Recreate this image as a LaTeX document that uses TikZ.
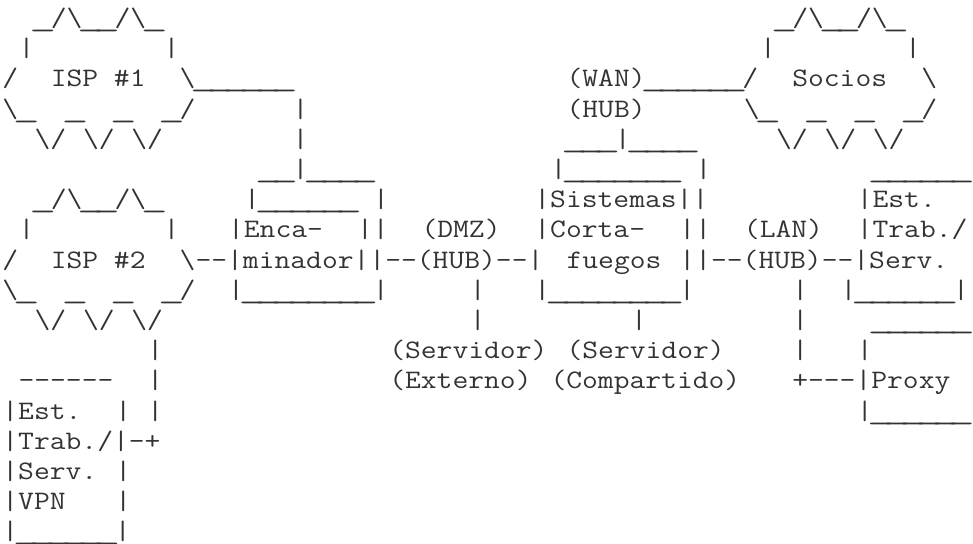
\documentclass[tikz,border=0pt]{standalone}

\newcommand{\hy}{-\kern0pt}
\newcommand{\bs}{\textbackslash}
\newcommand{\us}{\makebox[0.525em]{\scalebox{1.7}[1]{\_}}}

\begin{document}
\begin{tikzpicture}[x=12.09pt,y=-22.65pt,
        every node/.style={anchor=base west,inner sep=0,outer sep=0,text=black!80,
            font=\fontsize{20}{22}\selectfont\ttfamily,xscale=1.1514},
        ]
\useasboundingbox (-0.15,-0.88) rectangle (60.21,17.13);

% ISP #1
\node (ispA-top) at (2,0) {\us/\bs\us\us/\bs\us};
\node (ispA-l) at (1,1) {|};
\node (ispA-r) at (10,1) {|};
\node (ispA-w) at (0,2) {/};
\node (ispA) at (3,2) {ISP \#1};
\node (ispA-link) at (11,2) {\bs\us\us\us\us\us\us};
\node (ispA-b1) at (0,3) {\bs\us};
\node (ispA-b2) at (4,3) {\us};
\node (ispA-b3) at (7,3) {\us};
\node (ispA-b4) at (10,3) {\us/};
\node (ispA-v1) at (2,4) {\bs/};
\node (ispA-v2) at (5,4) {\bs/};
\node (ispA-v3) at (8,4) {\bs/};
\node (ispA-d1) at (18,3) {|};
\node (ispA-d2) at (18,4) {|};

% Socios
\node (soc-top) at (48,0) {\us/\bs\us\us/\bs\us};
\node (soc-l) at (47,1) {|};
\node (soc-r) at (56,1) {|};
\node (wan) at (35,2) {(WAN)\us\us\us\us\us\us/};
\node (soc) at (49,2) {Socios};
\node (soc-e) at (57,2) {\bs};
\node (wan-hub) at (35,3) {(HUB)};
\node (soc-b1) at (46,3) {\bs\us};
\node (soc-b2) at (50,3) {\us};
\node (soc-b3) at (53,3) {\us};
\node (soc-b4) at (56,3) {\us/};
\node (soc-v1) at (48,4) {\bs/};
\node (soc-v2) at (51,4) {\bs/};
\node (soc-v3) at (54,4) {\bs/};

% Encaminador
\node (enc-top) at (16,5) {\us\us|\us\us\us\us};
\node (enc-back) at (15,6) {|\us\us\us\us\us\us};
\node (enc-back-r) at (23,6) {|};
\node (enc-a) at (14,7) {|Enca-};
\node (enc-a-r) at (22,7) {||};
\node (enc-bot) at (14,9) {|\us\us\us\us\us\us\us\us|};

% Sistemas Cortafuegos
\node (fw-top) at (35,4) {\us\us\us|\us\us\us\us};
\node (fw-back) at (34,5) {|\us\us\us\us\us\us\us};
\node (fw-back-r) at (43,5) {|};
\node (fw-a) at (33,6) {|Sistemas||};
\node (fw-b) at (33,7) {|Corta-};
\node (fw-b-r) at (42,7) {||};
\node (fw-c) at (35,8) {fuegos};
\node (fw-bot) at (33,9) {|\us\us\us\us\us\us\us\us|};

% ISP #2
\node (ispB-top) at (2,6) {\us/\bs\us\us/\bs\us};
\node (ispB-l) at (1,7) {|};
\node (ispB-r) at (10,7) {|};
\node (ispB-w) at (0,8) {/};
\node (ispB) at (3,8) {ISP \#2};
\node (chain-l) at (11,8) {\bs\hy\hy|minador||\hy\hy(HUB)\hy\hy|};
\node (chain-r) at (42,8) {||\hy\hy(HUB)\hy\hy|Serv.};
\node (ispB-b1) at (0,9) {\bs\us};
\node (ispB-b2) at (4,9) {\us};
\node (ispB-b3) at (7,9) {\us};
\node (ispB-b4) at (10,9) {\us/};
\node (ispB-v1) at (2,10) {\bs/};
\node (ispB-v2) at (5,10) {\bs/};
\node (ispB-v3) at (8,10) {\bs/};

% DMZ and servers
\node (dmz) at (26,7) {(DMZ)};
\node (dmz-d1) at (29,9) {|};
\node (dmz-d2) at (29,10) {|};
\node (fw-d) at (39,10) {|};
\node (srvA) at (24,11) {(Servidor)};
\node (srvB) at (35,11) {(Servidor)};
\node (srvA-n) at (24,12) {(Externo)};
\node (srvB-n) at (34,12) {(Compartido)};

% LAN and hosts
\node (lan) at (46,7) {(LAN)};
\node (est-top) at (54,5) {\us\us\us\us\us\us};
\node (est-a) at (53,6) {|Est.};
\node (est-b) at (53,7) {|Trab./};
\node (est-bot) at (52,9) {|\us\us\us\us\us\us|};
\node (lan-d1) at (49,9) {|};
\node (lan-d2) at (49,10) {|};
\node (lan-d3) at (49,11) {|};
\node (prx-top) at (54,10) {\us\us\us\us\us\us};
\node (prx-l) at (53,11) {|};
\node (prx) at (49,12) {+\hy\hy\hy|Proxy};
\node (prx-bot) at (53,13) {|\us\us\us\us\us\us};

% VPN host
\node (ispB-d1) at (9,11) {|};
\node (ispB-d2) at (9,12) {|};
\node (vpn-top) at (1,12) {\hy\hy\hy\hy\hy\hy};
\node (vpn-a) at (0,13) {|Est.};
\node (vpn-a-r) at (7,13) {|};
\node (ispB-d3) at (9,13) {|};
\node (vpn-b) at (0,14) {|Trab./|\hy+};
\node (vpn-c) at (0,15) {|Serv.};
\node (vpn-c-r) at (7,15) {|};
\node (vpn-d) at (0,16) {|VPN};
\node (vpn-d-r) at (7,16) {|};
\node (vpn-bot) at (0,17) {|\us\us\us\us\us\us|};

\end{tikzpicture}
\end{document}
